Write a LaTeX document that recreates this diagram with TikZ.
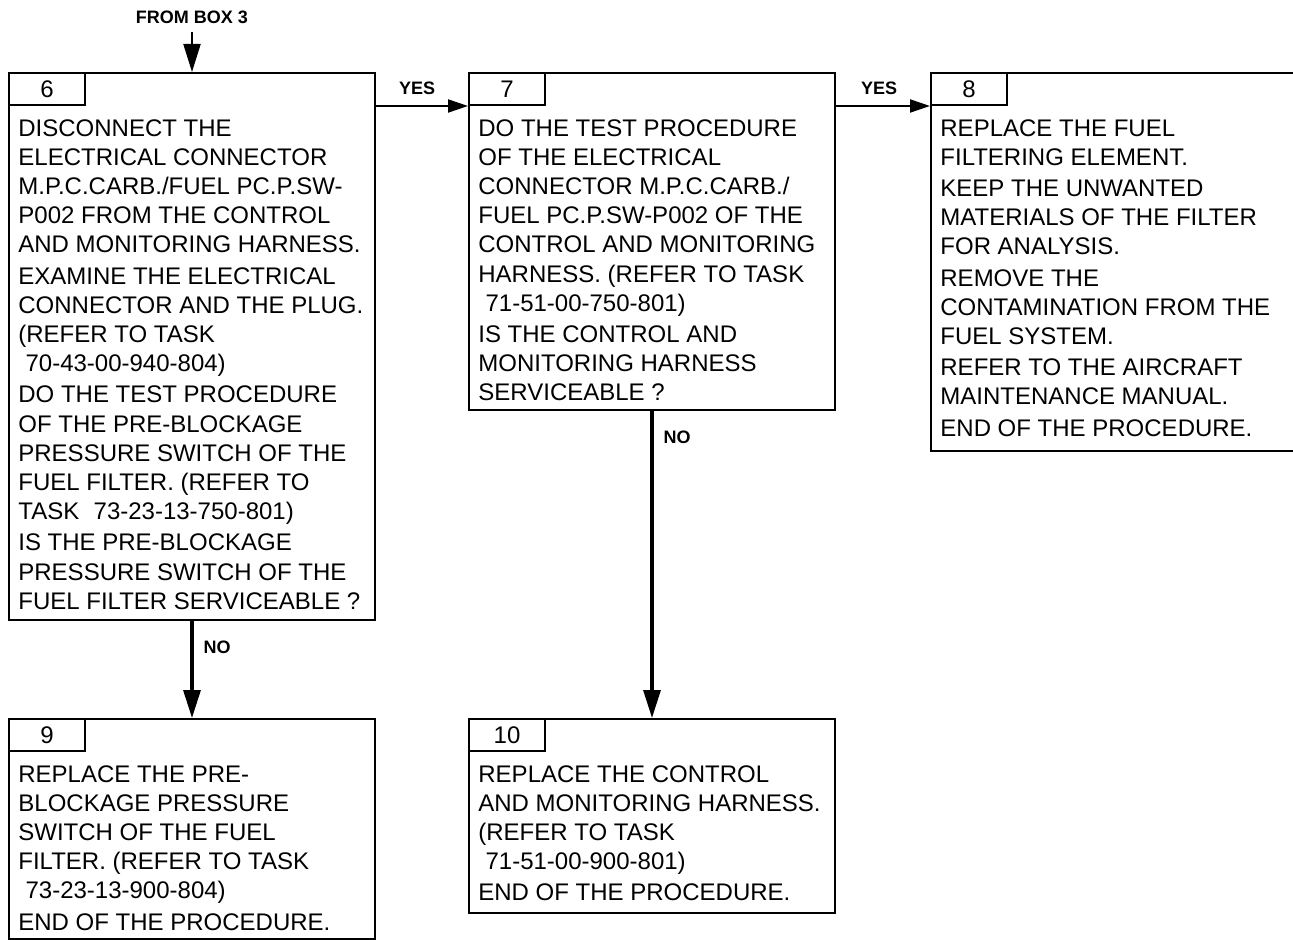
\documentclass[tikz,border=0pt]{standalone}
\usepackage{fontspec}
\setmainfont{Liberation Sans}
\usepackage{tikz}
\usetikzlibrary{arrows.meta,positioning}
\newcommand{\pgap}{\\[1pt]}

\begin{document}
\begin{tikzpicture}[x=1pt, y=-1pt,
  box/.style={draw, line width=1pt, anchor=north west, minimum width=183pt, inner sep=0pt},
  tab/.style={draw, line width=1pt, anchor=north west, minimum width=38pt, minimum height=16pt, inner sep=0pt, font=\fontsize{12}{14}\selectfont},
  txt/.style={align=left, inner sep=0pt, font=\fontsize{12}{14.6}\selectfont},
  lbl/.style={inner sep=0pt, font=\fontsize{9}{10}\selectfont\bfseries},
  ar/.style={-{Triangle[length=10pt, width=6.5pt]}, line width=1pt},
  arbig/.style={-{Triangle[length=14pt, width=8.5pt]}, line width=1.6pt}]
  \useasboundingbox (0,0) rectangle (646.5,470);
  % boxes
  \node[box, minimum height=273.5pt] (box6) at (4,36) {};
  \node[box, minimum height=168.5pt] (box7) at (234,36) {};
  \node[box, minimum height=189pt] (box8) at (465,36) {};
  \node[box, minimum height=110pt] (box9) at (4,359) {};
  \node[box, minimum height=97pt] (box10) at (234,359) {};
  % number tabs
  \node[tab] (tab6) at (box6.north west) {6};
  \node[tab] (tab7) at (box7.north west) {7};
  \node[tab] (tab8) at (box8.north west) {8};
  \node[tab] (tab9) at (box9.north west) {9};
  \node[tab] (tab10) at (box10.north west) {10};
  % texts
  \node[txt, below right=6.5pt and 5pt of tab6.south west] (txt6) {DISCONNECT THE\\ELECTRICAL CONNECTOR\\M.P.C.CARB./FUEL PC.P.SW-\\P002 FROM THE CONTROL\\AND MONITORING HARNESS.\pgap EXAMINE THE ELECTRICAL\\CONNECTOR AND THE PLUG.\\(REFER TO TASK\\\hspace*{0.3em}70-43-00-940-804)\pgap DO THE TEST PROCEDURE\\OF THE PRE-BLOCKAGE\\PRESSURE SWITCH OF THE\\FUEL FILTER. (REFER TO\\TASK\hspace*{0.6em}73-23-13-750-801)\pgap IS THE PRE-BLOCKAGE\\PRESSURE SWITCH OF THE\\FUEL FILTER SERVICEABLE ?};
  \node[txt, below right=6.5pt and 5pt of tab7.south west] (txt7) {DO THE TEST PROCEDURE\\OF THE ELECTRICAL\\CONNECTOR M.P.C.CARB./\\FUEL PC.P.SW-P002 OF THE\\CONTROL AND MONITORING\\HARNESS. (REFER TO TASK\\\hspace*{0.3em}71-51-00-750-801)\pgap IS THE CONTROL AND\\MONITORING HARNESS\\SERVICEABLE ?};
  \node[txt, below right=6.5pt and 5pt of tab8.south west] (txt8) {REPLACE THE FUEL\\FILTERING ELEMENT.\pgap KEEP THE UNWANTED\\MATERIALS OF THE FILTER\\FOR ANALYSIS.\pgap REMOVE THE\\CONTAMINATION FROM THE\\FUEL SYSTEM.\pgap REFER TO THE AIRCRAFT\\MAINTENANCE MANUAL.\pgap END OF THE PROCEDURE.};
  \node[txt, below right=6.5pt and 5pt of tab9.south west] (txt9) {REPLACE THE PRE-\\BLOCKAGE PRESSURE\\SWITCH OF THE FUEL\\FILTER. (REFER TO TASK\\\hspace*{0.3em}73-23-13-900-804)\pgap END OF THE PROCEDURE.};
  \node[txt, below right=6.5pt and 5pt of tab10.south west] (txt10) {REPLACE THE CONTROL\\AND MONITORING HARNESS.\\(REFER TO TASK\\\hspace*{0.3em}71-51-00-900-801)\pgap END OF THE PROCEDURE.};
  % connectors
  \node[lbl] (from3) at (96,8.5) {FROM BOX 3};
  \coordinate (in6) at (96,16);
  \draw[arbig, line width=1pt] (in6) -- (in6 |- box6.north);
  \draw[ar] (box6.east |- tab7.south west) -- node[lbl, at start, above right=5pt and 11pt] {YES} (tab7.south west);
  \draw[ar] (box7.east |- tab8.south west) -- node[lbl, at start, above right=5pt and 12pt] {YES} (tab8.south west);
  \draw[arbig] (box6.south) -- node[lbl, at start, below right=9pt and 5pt] {NO} (box9.north);
  \draw[arbig] (box7.south) -- node[lbl, at start, below right=9pt and 5pt] {NO} (box10.north);
\end{tikzpicture}
\end{document}
